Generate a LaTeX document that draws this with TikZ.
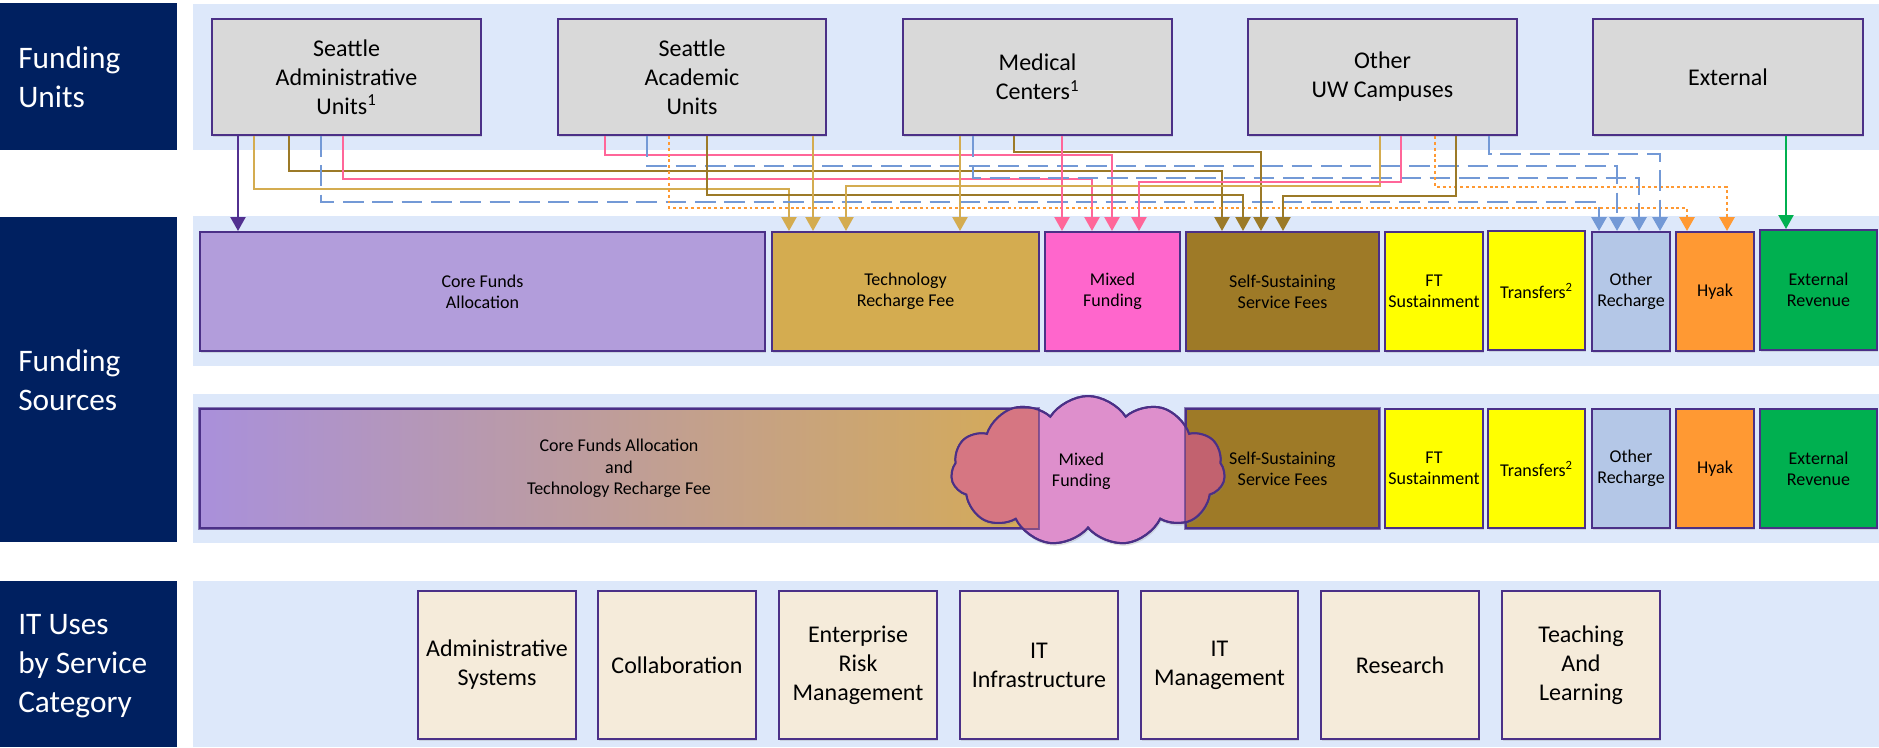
\documentclass[tikz,border=0pt]{standalone}
\usepackage{fontspec}
\setmainfont{Carlito}
\usetikzlibrary{arrows.meta,fit,shapes.symbols,shadows}
\definecolor{navy}{HTML}{002060}
\definecolor{bandcol}{HTML}{DDE8FA}
\definecolor{unitgray}{HTML}{D9D9D9}
\definecolor{boxline}{HTML}{4B3087}
\definecolor{corecol}{HTML}{B29DDB}
\definecolor{trfcol}{HTML}{D4AC50}
\definecolor{mixcol}{HTML}{FF66CC}
\definecolor{sscol}{HTML}{9E7A27}
\definecolor{ftcol}{HTML}{FFFF00}
\definecolor{orccol}{HTML}{B4C7E7}
\definecolor{hyakcol}{HTML}{FF9933}
\definecolor{extcol}{HTML}{00B050}
\definecolor{usecol}{HTML}{F5EBDA}
\definecolor{gradL}{HTML}{A990DB}
\definecolor{gradR}{HTML}{D5AB56}
\definecolor{cloudcol}{HTML}{DE8FCC}
\definecolor{ovlA}{HTML}{D67682}
\definecolor{ovlB}{HTML}{C2626F}
\definecolor{lnpurple}{HTML}{523090}
\definecolor{lntan}{HTML}{D4AC50}
\definecolor{lnbrown}{HTML}{9C7A28}
\definecolor{lnpink}{HTML}{FF6699}
\definecolor{lnblue}{HTML}{7399D6}
\definecolor{lnorange}{HTML}{FF9933}
\definecolor{lngreen}{HTML}{00B050}
% box with its text as a separate, centred node
\newcommand\mkbox[5]{%
  \node[#1, fit={#3}] (#4) {};
  \node[#2] (#4t) at (#4.center) {#5};}
\begin{document}
\begin{tikzpicture}[x=0.75pt,y=-0.75pt,
  navytext/.style={text=white, font=\fontsize{23.5}{29.5}\selectfont, align=left, anchor=west, inner sep=0},
  basebox/.style={draw=boxline, line width=1.5pt, inner sep=0,
    drop shadow={opacity=0.22, shadow xshift=0.8pt, shadow yshift=-1.8pt}},
  unitbox/.style={basebox, fill=unitgray},
  usebox/.style={basebox, fill=usecol},
  bigtext/.style={inner sep=0, align=center, font=\fontsize{18}{21.75}\selectfont},
  smalltext/.style={inner sep=0, align=center, font=\fontsize{13.5}{16}\selectfont},
  conn/.style={line width=1.7pt, -{Triangle[length=10.5pt,width=11.25pt]}},
  dashconn/.style={conn, line width=2.2pt, dash pattern=on 15.5pt off 6.5pt},
  dotconn/.style={conn, line width=2.2pt, dash pattern=on 2.2pt off 2.2pt},
  mixcloud/.style={cloud, cloud puffs=11, cloud puff arc=115, cloud ignores aspect,
    minimum width=274*0.75pt, minimum height=150*0.75pt, inner sep=0}
]
\useasboundingbox (0,0) rectangle (1879,747);
\fill[white] (0,0) rectangle (1879,747);
% bands
\fill[bandcol] (193,4) rectangle (1879,150);
\fill[bandcol] (193,216) rectangle (1879,366);
\fill[bandcol] (193,394) rectangle (1879,543);
\fill[bandcol] (193,581) rectangle (1879,747);
% navy label boxes
\fill[navy] (0,3) rectangle (177,150);
\fill[navy] (0,217) rectangle (177,542);
\fill[navy] (0,581) rectangle (177,747);
\node[navytext] (lfu) at (18,77) {Funding\\Units};
\node[navytext] (lfs) at (18,380) {Funding\\Sources};
\node[navytext] (liu) at (18,666) {IT Uses\\by Service\\Category};

% funding units
\mkbox{unitbox}{bigtext}{(212,19)(481,135)}{sau}{Seattle\\Administrative\\Units\textsuperscript{1}}
\mkbox{unitbox}{bigtext}{(558,19)(826,135)}{sac}{Seattle\\Academic\\Units}
\mkbox{unitbox}{bigtext}{(903,19)(1172,135)}{med}{Medical\\Centers\textsuperscript{1}}
\mkbox{unitbox}{bigtext}{(1248,19)(1517,135)}{ouw}{Other\\UW Campuses}
\mkbox{unitbox}{bigtext}{(1593,19)(1863,135)}{ext}{External}

% funding sources row 1
\mkbox{basebox, fill=corecol}{smalltext}{(200,232)(765,351)}{cfa}{Core Funds\\Allocation}
\mkbox{basebox, fill=trfcol}{smalltext}{(772,232)(1039,351)}{trf}{Technology\\Recharge Fee}
\mkbox{basebox, fill=mixcol}{smalltext}{(1045,232)(1180,351)}{mix}{Mixed\\Funding}
\mkbox{basebox, fill=sscol}{smalltext}{(1186,232)(1379,351)}{sss}{Self-Sustaining\\Service Fees}
\mkbox{basebox, fill=ftcol}{smalltext}{(1385,232)(1483,351)}{fts}{FT\\Sustainment}
\mkbox{basebox, fill=ftcol}{smalltext}{(1488,231)(1585,350)}{tra}{Transfers\textsuperscript{2}}
\mkbox{basebox, fill=orccol}{smalltext}{(1592,232)(1670,351)}{orc}{Other\\Recharge}
\mkbox{basebox, fill=hyakcol}{smalltext}{(1676,232)(1754,351)}{hyk}{Hyak}
\mkbox{basebox, fill=extcol}{smalltext}{(1760,230)(1877,350)}{exr}{External\\Revenue}

% funding sources row 2
\mkbox{basebox, left color=gradL, right color=gradR}{smalltext}{(200,409)(1038,528)}{cft}{Core Funds Allocation\\and\\Technology Recharge Fee}
\mkbox{basebox, fill=sscol}{smalltext}{(1186,409)(1379,528)}{sss2}{Self-Sustaining\\Service Fees}
\mkbox{basebox, fill=ftcol}{smalltext}{(1385,409)(1483,528)}{fts2}{FT\\Sustainment}
\mkbox{basebox, fill=ftcol}{smalltext}{(1488,409)(1585,528)}{tra2}{Transfers\textsuperscript{2}}
\mkbox{basebox, fill=orccol}{smalltext}{(1592,409)(1670,528)}{orc2}{Other\\Recharge}
\mkbox{basebox, fill=hyakcol}{smalltext}{(1676,409)(1754,528)}{hyk2}{Hyak}
\mkbox{basebox, fill=extcol}{smalltext}{(1760,409)(1877,528)}{exr2}{External\\Revenue}

% cloud
\node[mixcloud, fill=cloudcol, draw=boxline, line width=1.5pt,
  drop shadow={opacity=0.22, shadow xshift=0.8pt, shadow yshift=-2pt}] (mixc) at (1088,471) {};
\begin{scope}
  \clip (cft.north west) rectangle (cft.south east);
  \node[mixcloud, fill=ovlA] (mixcA) at (mixc.center) {};
\end{scope}
\begin{scope}
  \clip (sss2.north west) rectangle (sss2.south east);
  \node[mixcloud, fill=ovlB] (mixcB) at (mixc.center) {};
\end{scope}
\node[mixcloud, draw=boxline, line width=1.5pt] (mixcO) at (mixc.center) {};
\draw[boxline, line width=1.5pt, opacity=0.6] (cft.north west) rectangle (cft.south east);
\draw[boxline, line width=1.5pt, opacity=0.6] (sss2.north west) rectangle (sss2.south east);
\node[smalltext] (mixct) at ([xshift=-5pt]mixc.center) {Mixed\\Funding};

% IT uses
\mkbox{usebox}{bigtext}{(418,591)(576,739)}{u1}{Administrative\\Systems}
\mkbox{usebox}{bigtext}{(598,591)(756,739)}{u2}{Collaboration}
\mkbox{usebox}{bigtext}{(779,591)(937,739)}{u3}{Enterprise\\Risk\\Management}
\mkbox{usebox}{bigtext}{(960,591)(1118,739)}{u4}{IT\\Infrastructure}
\mkbox{usebox}{bigtext}{(1141,591)(1298,739)}{u5}{IT\\Management}
\mkbox{usebox}{bigtext}{(1321,591)(1479,739)}{u6}{Research}
\mkbox{usebox}{bigtext}{(1502,591)(1660,739)}{u7}{Teaching\\And\\Learning}

% connectors: Seattle Administrative Units
\draw[conn, lnpurple] (sau.south -| 238,0) -- (cfa.north -| 238,0);
\draw[conn, lntan] (sau.south -| 254,0) |- (789,189) -- (trf.north -| 789,0);
\draw[conn, lnbrown] (sau.south -| 289,0) |- (1222,171) -- (sss.north -| 1222,0);
\draw[dashconn, lnblue] (sau.south -| 321,0) |- (1599,202) -- (orc.north -| 1599,0);
\draw[conn, lnpink] (sau.south -| 343,0) |- (1092,179) -- (mix.north -| 1092,0);
% Seattle Academic Units
\draw[conn, lnpink] (sac.south -| 605,0) |- (1112,155) -- (mix.north -| 1112,0);
\draw[dashconn, lnblue] (sac.south -| 647,0) |- (1617,166) -- (orc.north -| 1617,0);
\draw[dotconn, lnorange] (sac.south -| 669,0) |- (1687,208) -- (hyk.north -| 1687,0);
\draw[conn, lnbrown] (sac.south -| 707,0) |- (1243,195) -- (sss.north -| 1243,0);
\draw[conn, lntan] (sac.south -| 813,0) -- (trf.north -| 813,0);
% Medical Centers
\draw[conn, lntan] (med.south -| 960,0) -- (trf.north -| 960,0);
\draw[dashconn, lnblue] (med.south -| 973,0) |- (1639,178) -- (orc.north -| 1639,0);
\draw[conn, lnbrown] (med.south -| 1014,0) |- (1261,152) -- (sss.north -| 1261,0);
\draw[conn, lnpink] (med.south -| 1062,0) -- (mix.north -| 1062,0);
% Other UW Campuses
\draw[conn, lntan] (ouw.south -| 1380,0) |- (846,186) -- (trf.north -| 846,0);
\draw[conn, lnpink] (ouw.south -| 1401,0) |- (1139,182) -- (mix.north -| 1139,0);
\draw[dotconn, lnorange] (ouw.south -| 1435,0) |- (1727,187) -- (hyk.north -| 1727,0);
\draw[conn, lnbrown] (ouw.south -| 1456,0) |- (1283,196) -- (sss.north -| 1283,0);
\draw[dashconn, lnblue] (ouw.south -| 1489,0) |- (1660,154) -- (orc.north -| 1660,0);
% External
\draw[conn, lngreen] (ext.south -| 1786,0) -- (exr.north -| 1786,0);
\end{tikzpicture}
\end{document}
